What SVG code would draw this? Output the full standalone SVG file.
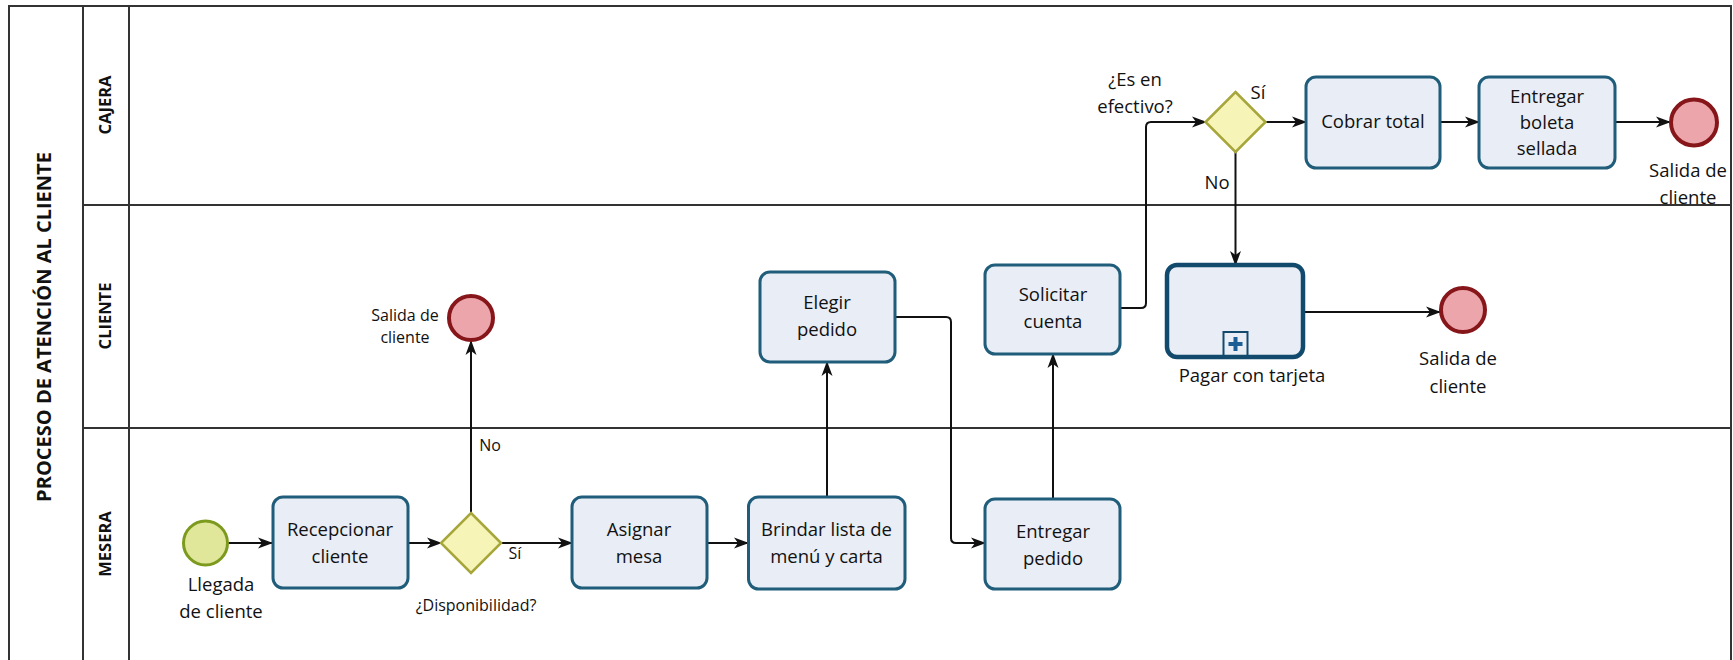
<svg xmlns="http://www.w3.org/2000/svg" width="1733" height="660" viewBox="0 0 1733 660">
<defs>
<style>
text{font-family:"Open Sans","Noto Sans","Liberation Sans",sans-serif;fill:#111;}
.t{font-size:18.5px;text-anchor:middle;}
.s{font-size:16px;text-anchor:middle;}
.lane{font-size:16.5px;font-weight:bold;text-anchor:middle;}
.title{font-size:20px;font-weight:bold;text-anchor:middle;}
.task{fill:#e9edf5;stroke:#1f5d7a;stroke-width:3;}
.sub{fill:#e9edf5;stroke:#124a6e;stroke-width:4.5;}
.start{fill:#e1e79a;stroke:#7c9a1e;stroke-width:3;}
.end{fill:#eca5ab;stroke:#86161a;stroke-width:4;}
.gw{fill:#f7f4b8;stroke:#a6a63a;stroke-width:2.5;}
.frame{fill:none;stroke:#333;stroke-width:2;}
.c{fill:none;stroke:#111;stroke-width:2;marker-end:url(#ah);}
</style>
<marker id="ah" viewBox="0 0 15 12" refX="14" refY="6" markerWidth="15" markerHeight="12" markerUnits="userSpaceOnUse" orient="auto">
<path d="M0,0.5 L15,6 L0,11.5 L4,6 z" fill="#111"/>
</marker>
</defs>
<rect width="1733" height="660" fill="#fff"/>
<g id="pool">
<path class="frame" d="M9,660 V6 H1731 V660"/>
<line class="frame" x1="83" y1="6" x2="83" y2="660"/>
<line class="frame" x1="129" y1="6" x2="129" y2="660"/>
<line class="frame" x1="83" y1="205" x2="1731" y2="205"/>
<line class="frame" x1="83" y1="428" x2="1731" y2="428"/>
<text class="title" transform="translate(51,327) rotate(-90)">PROCESO DE ATENCIÓN AL CLIENTE</text>
<text class="lane" transform="translate(110.5,105) rotate(-90)">CAJERA</text>
<text class="lane" transform="translate(110.5,316) rotate(-90)">CLIENTE</text>
<text class="lane" transform="translate(110.5,544) rotate(-90)">MESERA</text>
</g>
<g id="connectors">
<line class="c" x1="228" y1="543" x2="272" y2="543"/>
<line class="c" x1="408" y1="543" x2="441" y2="543"/>
<line class="c" x1="471" y1="513" x2="471" y2="341"/>
<line class="c" x1="501" y1="543" x2="572" y2="543"/>
<line class="c" x1="707" y1="543" x2="748" y2="543"/>
<line class="c" x1="827" y1="497" x2="827" y2="362"/>
<path class="c" d="M895,317 H946 Q951,317 951,322 V538 Q951,543 956,543 H985"/>
<line class="c" x1="1053" y1="499" x2="1053" y2="354"/>
<path class="c" d="M1120,308 H1141 Q1146,308 1146,303 V127 Q1146,122 1151,122 H1206"/>
<line class="c" x1="1265" y1="122" x2="1306" y2="122"/>
<line class="c" x1="1440" y1="122" x2="1479" y2="122"/>
<line class="c" x1="1615" y1="122" x2="1670" y2="122"/>
<line class="c" x1="1235.5" y1="152" x2="1235.5" y2="265"/>
<line class="c" x1="1303" y1="312" x2="1440" y2="312"/>
<text class="s" x="515" y="559">Sí</text>
<text class="s" x="490" y="451">No</text>
<text class="t" x="1258" y="99">Sí</text>
<text class="t" x="1217" y="189">No</text>
</g>
<g id="start">
<circle class="start" cx="205.5" cy="543" r="22"/>
<text class="t" x="221" y="591">Llegada</text>
<text class="t" x="221" y="618">de cliente</text>
</g>
<g id="recepcionar">
<rect class="task" x="273" y="497" width="135" height="91" rx="10"/>
<text class="t" x="340" y="536">Recepcionar</text>
<text class="t" x="340" y="563">cliente</text>
</g>
<g id="gw-disponibilidad">
<path class="gw" d="M471,513 L501,543 L471,573 L441,543 z"/>
<text class="s" x="476" y="611">¿Disponibilidad?</text>
</g>
<g id="end-1">
<circle class="end" cx="471" cy="318" r="22"/>
<text class="s" x="405" y="321">Salida de</text>
<text class="s" x="405" y="343">cliente</text>
</g>
<g id="asignar">
<rect class="task" x="572" y="497" width="135" height="91" rx="10"/>
<text class="t" x="639" y="536">Asignar</text>
<text class="t" x="639" y="563">mesa</text>
</g>
<g id="brindar">
<rect class="task" x="748.5" y="497" width="156.5" height="92" rx="10"/>
<text class="t" x="826.5" y="536">Brindar lista de</text>
<text class="t" x="826.5" y="563">menú y carta</text>
</g>
<g id="elegir">
<rect class="task" x="760" y="272" width="135" height="90" rx="10"/>
<text class="t" x="827" y="309">Elegir</text>
<text class="t" x="827" y="336">pedido</text>
</g>
<g id="entregar-pedido">
<rect class="task" x="985" y="499" width="135" height="90" rx="10"/>
<text class="t" x="1053" y="538">Entregar</text>
<text class="t" x="1053" y="565">pedido</text>
</g>
<g id="solicitar">
<rect class="task" x="985" y="265" width="135" height="89" rx="10"/>
<text class="t" x="1053" y="301">Solicitar</text>
<text class="t" x="1053" y="328">cuenta</text>
</g>
<g id="gw-efectivo">
<path class="gw" d="M1235.5,92 L1265.5,122 L1235.5,152 L1205.5,122 z"/>
<text class="t" x="1135" y="86">¿Es en</text>
<text class="t" x="1135" y="113">efectivo?</text>
</g>
<g id="cobrar">
<rect class="task" x="1306" y="77" width="134" height="91" rx="10"/>
<text class="t" x="1373" y="128">Cobrar total</text>
</g>
<g id="entregar-boleta">
<rect class="task" x="1479" y="77" width="136" height="91" rx="10"/>
<text class="t" x="1547" y="103">Entregar</text>
<text class="t" x="1547" y="129">boleta</text>
<text class="t" x="1547" y="155">sellada</text>
</g>
<g id="end-2">
<circle class="end" cx="1694" cy="122.5" r="23"/>
<text class="t" x="1688" y="177">Salida de</text>
<text class="t" x="1688" y="204">cliente</text>
</g>
<g id="pagar">
<rect class="sub" x="1167" y="265" width="136" height="92" rx="10"/>
<rect x="1223.5" y="332" width="24" height="24" fill="none" stroke="#124a6e" stroke-width="2"/>
<path d="M1235.5,337 V351 M1228.5,344 H1242.5" stroke="#1b5e96" stroke-width="4"/>
<text class="t" x="1252" y="382">Pagar con tarjeta</text>
</g>
<g id="end-3">
<circle class="end" cx="1463" cy="310" r="22"/>
<text class="t" x="1458" y="365">Salida de</text>
<text class="t" x="1458" y="393">cliente</text>
</g>
</svg>
